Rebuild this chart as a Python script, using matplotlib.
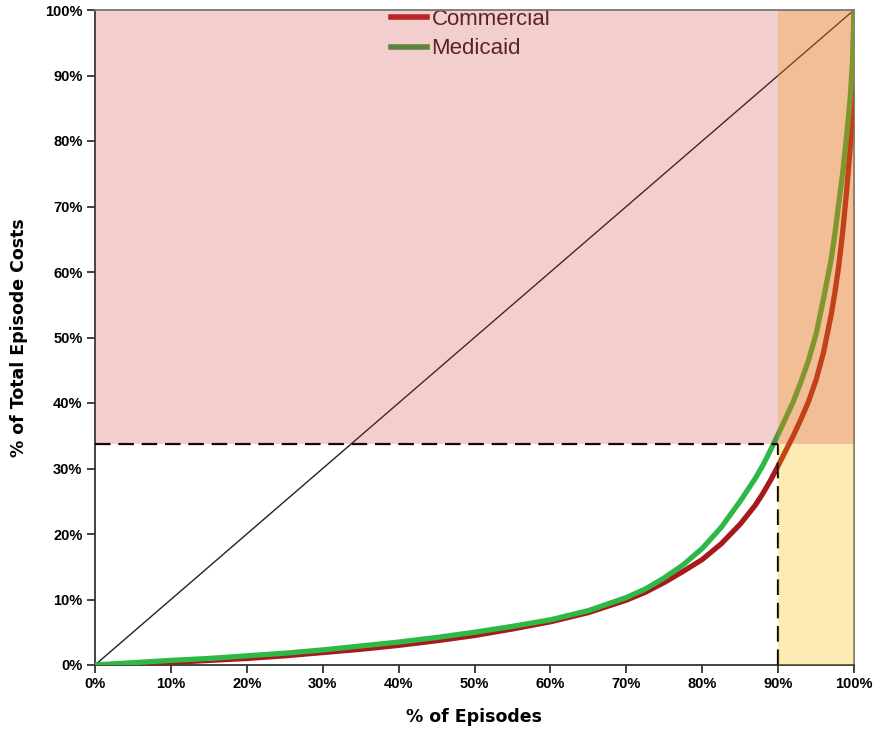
import matplotlib
matplotlib.use("Agg")
import matplotlib.pyplot as plt
from matplotlib.ticker import FuncFormatter
from matplotlib.lines import Line2D

# Data (percent of episodes vs cumulative percent of total episode costs)
episodes_pct = [0, 5, 10, 15, 20, 25, 30, 35, 40, 45, 50, 55, 60, 65, 70, 72.5, 75, 77.5, 80,
                82.5, 85, 87, 88, 89, 90, 91, 92, 93, 94, 95, 96, 97, 97.5, 98, 98.5, 99, 99.5,
                99.8, 100]
commercial = [0, 0.15, 0.4, 0.7, 1.0, 1.4, 1.9, 2.4, 3.0, 3.7, 4.5, 5.5, 6.6, 8.0, 9.9, 11.1,
              12.6, 14.3, 16.1, 18.5, 21.5, 24.4, 26.2, 28.2, 30.4, 32.7, 35.0, 37.5, 40.2,
              43.5, 47.8, 53.5, 57.0, 61.0, 66.0, 72.0, 79.0, 85.0, 100]
medicaid = [0, 0.35, 0.7, 1.0, 1.4, 1.8, 2.3, 2.9, 3.5, 4.2, 5.0, 5.9, 6.9, 8.3, 10.3, 11.6,
            13.3, 15.3, 17.8, 21.0, 25.0, 28.5, 30.5, 32.8, 35.2, 37.7, 40.2, 43.2, 46.5,
            50.5, 56.0, 62.0, 66.0, 70.5, 75.0, 80.5, 86.5, 92.0, 100]
series_names = ["Commercial", "Medicaid"]
top_decile_x = 90
top_decile_share = 33.8
x_ticks = list(range(0, 101, 10))
y_ticks = list(range(0, 101, 10))

fig = plt.figure(figsize=(8.77, 7.36), dpi=100)
ax = fig.add_axes([95/877, 71/736, (854-95)/877, (665-10)/736])

red = "#A8191E"
green = "#2EB845"

ax.plot([0, 100], [0, 100], color="#222222", lw=1.0, zorder=3)
ax.plot(episodes_pct, commercial, color=red, lw=3.8, solid_capstyle="round",
        solid_joinstyle="round", zorder=4)
ax.plot(episodes_pct, medicaid, color=green, lw=3.8, solid_capstyle="round",
        solid_joinstyle="round", zorder=4)

ax.plot([0, top_decile_x], [top_decile_share, top_decile_share], color="black", lw=1.6,
        dashes=(7, 3.5), zorder=5)
ax.plot([top_decile_x, top_decile_x], [0, top_decile_share], color="black", lw=1.6,
        dashes=(7, 3.5), zorder=5)

# shaded overlays
ax.axvspan(top_decile_x, 100, ymin=0, ymax=1, facecolor=(254/255, 186/255, 0), alpha=0.29,
           lw=0, zorder=8)
ax.axhspan(top_decile_share, 100, xmin=0, xmax=1, facecolor=(203/255, 45/255, 45/255), alpha=0.23,
           lw=0, zorder=9)

handles = [Line2D([], [], color="#B82020", lw=4), Line2D([], [], color="#3E9E3E", lw=4)]
leg = ax.legend(handles, series_names, loc="upper left",
                bbox_to_anchor=(391/877, 1 - 9/736), bbox_transform=fig.transFigure,
                frameon=False, handlelength=1.6, handletextpad=0.22, labelspacing=0.38,
                borderpad=0, borderaxespad=0,
                prop={"family": "Liberation Sans", "size": 16})
for t in leg.get_texts():
    t.set_color("#3a2020")
leg.set_zorder(7)

ax.set_xlim(0, 100)
ax.set_ylim(0, 100)
ax.set_xticks(x_ticks)
ax.set_yticks(y_ticks)
fmt = FuncFormatter(lambda v, p: f"{int(v)}%")
ax.xaxis.set_major_formatter(fmt)
ax.yaxis.set_major_formatter(fmt)
for lab in ax.get_xticklabels() + ax.get_yticklabels():
    lab.set_fontfamily("Liberation Sans")
    lab.set_fontweight("bold")
    lab.set_fontsize(10.5)
ax.tick_params(direction="out", length=6, width=1.3, color="#333333", pad=3)

for s in ["left", "bottom"]:
    ax.spines[s].set_color("#333333")
    ax.spines[s].set_linewidth(1.3)
for s in ["top", "right"]:
    ax.spines[s].set_color("#777777")
    ax.spines[s].set_linewidth(1.3)
ax.spines["top"].set_zorder(10)

ax.set_xlabel("% of Episodes", fontfamily="DejaVu Sans", fontweight="bold", fontsize=12.5, labelpad=12)
ax.set_ylabel("% of Total Episode Costs", fontfamily="DejaVu Sans", fontweight="bold", fontsize=12.5, labelpad=12)

fig.savefig("out.png", dpi=100)
